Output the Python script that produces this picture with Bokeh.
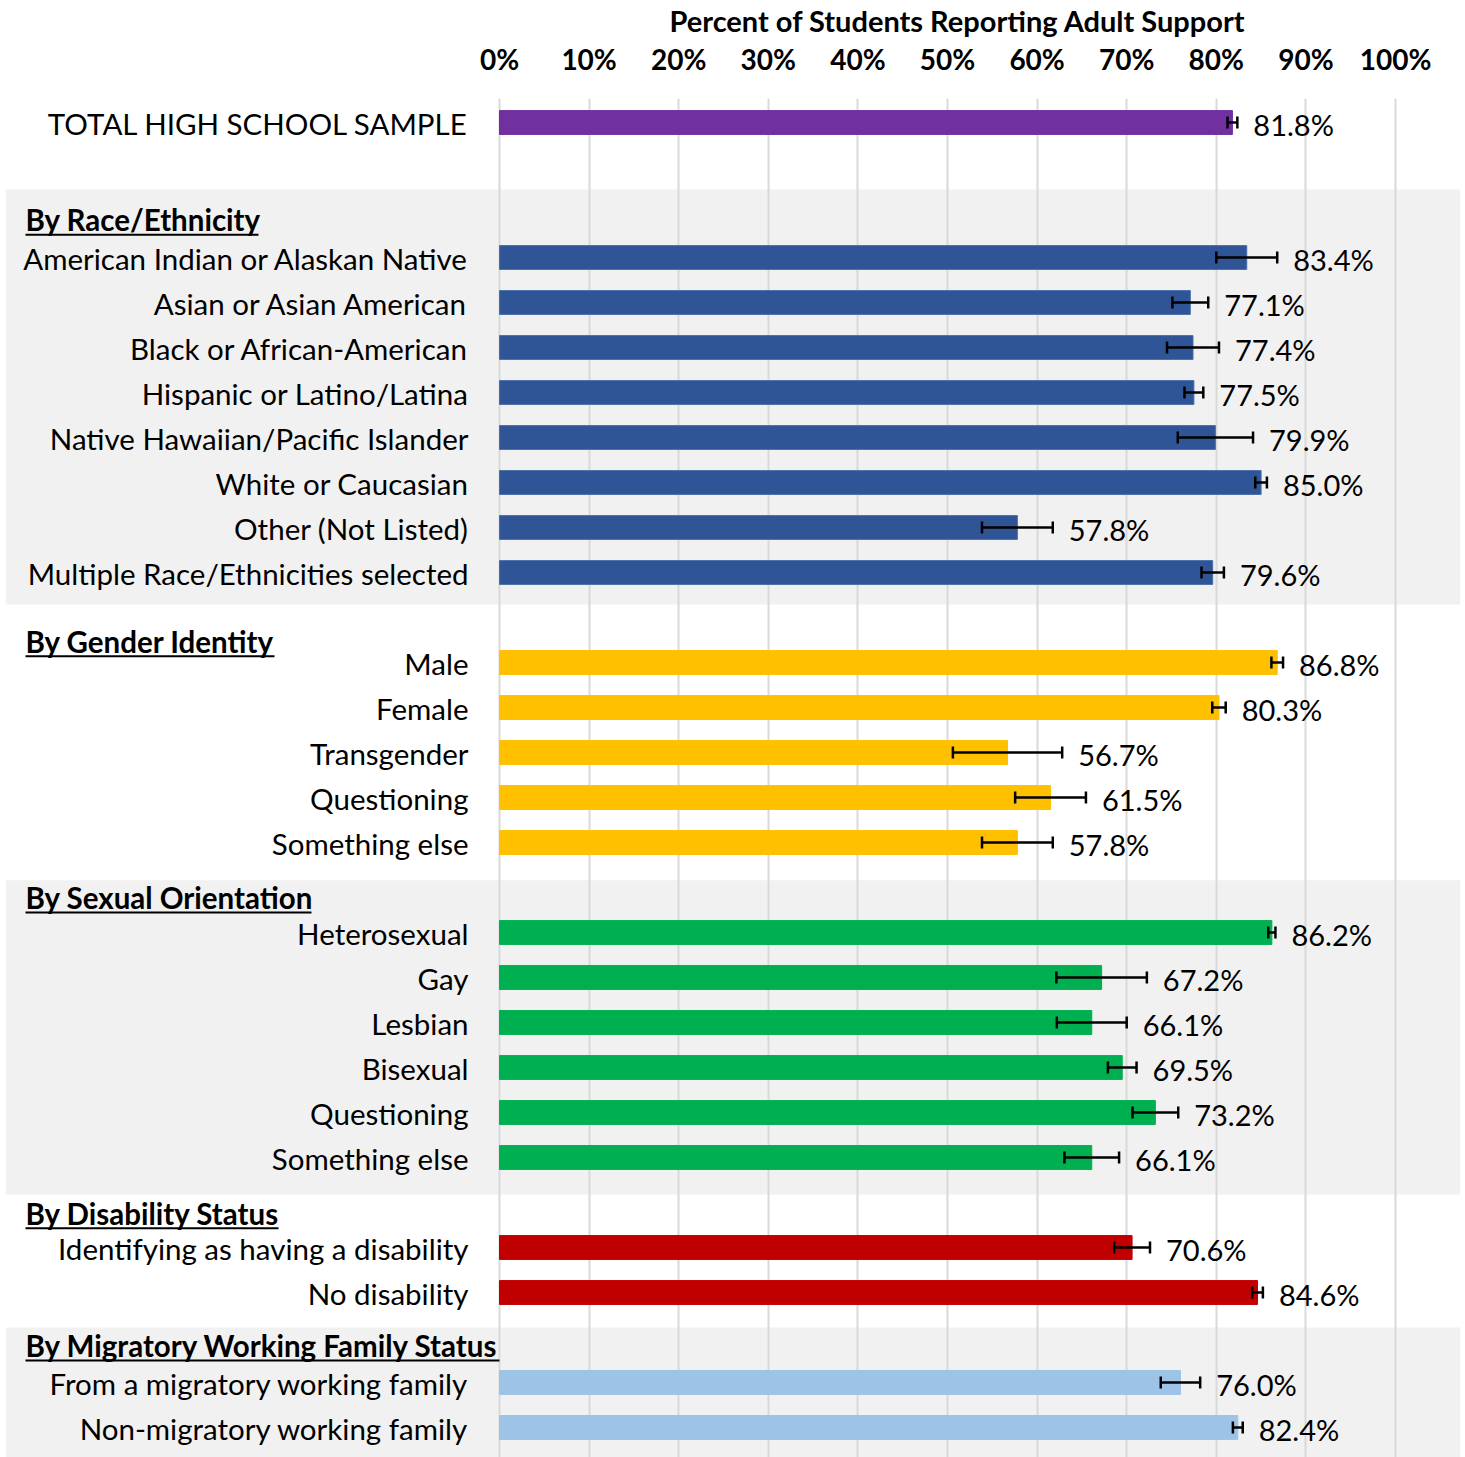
from bokeh.plotting import figure
from bokeh.models import ColumnDataSource, Range1d, FixedTicker, Whisker, TeeHead
from bokeh.core.properties import value
from bokeh.embed import file_html
from bokeh.resources import INLINE

# ---------------- data ----------------
tick_values = [0, 10, 20, 30, 40, 50, 60, 70, 80, 90, 100]
tick_labels = ["0%", "10%", "20%", "30%", "40%", "50%", "60%", "70%", "80%", "90%", "100%"]

total_labels = ["TOTAL HIGH SCHOOL SAMPLE"]
total_values = [81.8]
total_err = [0.55]

race_labels = ["American Indian or Alaskan Native", "Asian or Asian American",
               "Black or African-American", "Hispanic or Latino/Latina",
               "Native Hawaiian/Pacific Islander", "White or Caucasian",
               "Other (Not Listed)", "Multiple Race/Ethnicities selected"]
race_values = [83.4, 77.1, 77.4, 77.5, 79.9, 85.0, 57.8, 79.6]
race_err = [3.4, 2.0, 2.9, 1.05, 4.2, 0.65, 3.95, 1.25]

gender_labels = ["Male", "Female", "Transgender", "Questioning", "Something else"]
gender_values = [86.8, 80.3, 56.7, 61.5, 57.8]
gender_err = [0.65, 0.75, 6.1, 3.95, 3.95]

sexual_labels = ["Heterosexual", "Gay", "Lesbian", "Bisexual", "Questioning", "Something else"]
sexual_values = [86.2, 67.2, 66.1, 69.5, 73.2, 66.1]
sexual_err = [0.4, 5.05, 3.9, 1.6, 2.55, 3.05]

disability_labels = ["Identifying as having a disability", "No disability"]
disability_values = [70.6, 84.6]
disability_err = [2.0, 0.6]

migratory_labels = ["From a migratory working family", "Non-migratory working family"]
migratory_values = [76.0, 82.4]
migratory_err = [2.2, 0.55]

group_headers = [None, "By Race/Ethnicity", "By Gender Identity", "By Sexual Orientation",
                 "By Disability Status", "By Migratory Working Family Status"]

# ---------------- styling / layout ----------------
groups = [
    (total_labels, total_values, total_err, "#7030A0"),
    (race_labels, race_values, race_err, "#2F5597"),
    (gender_labels, gender_values, gender_err, "#FFC000"),
    (sexual_labels, sexual_values, sexual_err, "#00B050"),
    (disability_labels, disability_values, disability_err, "#C00000"),
    (migratory_labels, migratory_values, migratory_err, "#9DC3E6"),
]
gap_before = [0, 2, 1, 1, 1, 1]          # empty row slots before each group
header_shift = [0, 0.84, 0.47, 0.78, 0.76, 0.82]   # header sits above first row (row units)
underline_px = [0, 233, 249, 286, 253, 474]
band_groups = {1: (1.51, 0.71), 3: (1.16, 0.82), 5: (1.22, 2.0)}  # (before first, after last)

FONT = "Lato"
PX_PER_UNIT = 8.96
ZERO_PX = 499
FRAME_L, FRAME_R = 5, 1460
W, H = 1465, 1457
FRAME_TOP = 98
ROW_PX = 45
FIRST_ROW_PX = 122

x_start = (FRAME_L - ZERO_PX) / PX_PER_UNIT
x_end = (FRAME_R - ZERO_PX) / PX_PER_UNIT
y_top = -(FIRST_ROW_PX - FRAME_TOP) / ROW_PX
y_bot = (H - FIRST_ROW_PX) / ROW_PX

rows = dict(y=[], v=[], lo=[], hi=[], label=[], vlabel=[], color=[], line=[])
headers = dict(y=[], text=[])
underlines = dict(x0=[], x1=[], y=[])
bands = dict(top=[], bottom=[])
slot = 0
for gi, (labs, vals, errs, col) in enumerate(groups):
    slot += gap_before[gi]
    first = slot
    for lab, v, e in zip(labs, vals, errs):
        rows["y"].append(slot)
        rows["v"].append(v)
        rows["lo"].append(v - e)
        rows["hi"].append(v + e)
        rows["label"].append(lab)
        rows["vlabel"].append(f"{v:.1f}%")
        rows["color"].append(col)
        rows["line"].append("#4A6FAA" if col == "#2F5597" else col)
        slot += 1
    last = slot - 1
    if group_headers[gi]:
        hy = first - header_shift[gi]
        headers["y"].append(hy)
        headers["text"].append(group_headers[gi])
        ux0 = x_start + 20 / PX_PER_UNIT
        underlines["x0"].append(ux0)
        underlines["x1"].append(ux0 + underline_px[gi] / PX_PER_UNIT)
        underlines["y"].append(hy + 15 / ROW_PX)
    if gi in band_groups:
        b, a = band_groups[gi]
        bands["top"].append(first - b)
        bands["bottom"].append(last + a)

src = ColumnDataSource(rows)

p = figure(width=W, height=H, output_backend="svg", toolbar_location=None,
           x_range=Range1d(x_start, x_end), y_range=Range1d(y_bot, y_top),
           x_axis_location="above", y_axis_location=None,
           min_border_left=FRAME_L, min_border_right=W - FRAME_R, min_border_bottom=0,
           min_border_top=0)
p.outline_line_color = None
p.background_fill_color = "white"
p.border_fill_color = "white"

p.title.text = "Percent of Students Reporting Adult Support"
p.title.align = "left"
p.title.offset = 664
p.title.text_font = FONT
p.title.text_font_size = "29px"
p.title.text_font_style = "bold"
p.title.text_color = "black"
p.title.text_line_height = 1.0
p.title.standoff = 1

ax = p.xaxis[0]
ax.ticker = FixedTicker(ticks=tick_values)
ax.major_label_overrides = {t: l for t, l in zip(tick_values, tick_labels)}
ax.axis_line_color = None
ax.major_tick_line_color = None
ax.minor_tick_line_color = None
ax.major_label_text_font = FONT
ax.major_label_text_font_size = "28px"
ax.major_label_text_font_style = "bold"
ax.major_label_text_color = "black"
ax.major_label_standoff = 17

p.xgrid.ticker = FixedTicker(ticks=tick_values)
p.xgrid.grid_line_color = "#D9D9D9"
p.xgrid.grid_line_width = 2
p.ygrid.grid_line_color = None

p.quad(left=x_start, right=x_end, top="top", bottom="bottom", source=ColumnDataSource(bands),
       fill_color="#F1F1F1", line_color=None, level="image")

p.hbar(y="y", left=0, right="v", height=0.53, source=src, fill_color="color",
       line_color="line", line_width=1)

p.add_layout(Whisker(base="y", lower="lo", upper="hi", dimension="width", source=src,
                     line_color="black", line_width=2.5, level="annotation",
                     lower_head=TeeHead(size=12, line_width=2.5, line_color="black"),
                     upper_head=TeeHead(size=12, line_width=2.5, line_color="black")))

p.text(x="hi", y="y", text="vlabel", source=src, x_offset=16, y_offset=2,
       text_align="left", text_baseline="middle", text_font=value(FONT),
       text_font_size="29px", text_color="black")

p.text(x=0, y="y", text="label", source=src, x_offset=-31, y_offset=1,
       text_align="right", text_baseline="middle", text_font=value(FONT),
       text_font_size="29.5px", text_color="black")

hsrc = ColumnDataSource(headers)
p.text(x=x_start, y="y", text="text", source=hsrc, x_offset=20,
       text_align="left", text_baseline="middle", text_font=value(FONT),
       text_font_size="29.5px", text_font_style="bold", text_color="black")
p.segment(x0="x0", x1="x1", y0="y", y1="y", source=ColumnDataSource(underlines),
          line_color="black", line_width=2)

open("out.html", "w").write(file_html(p, INLINE))
